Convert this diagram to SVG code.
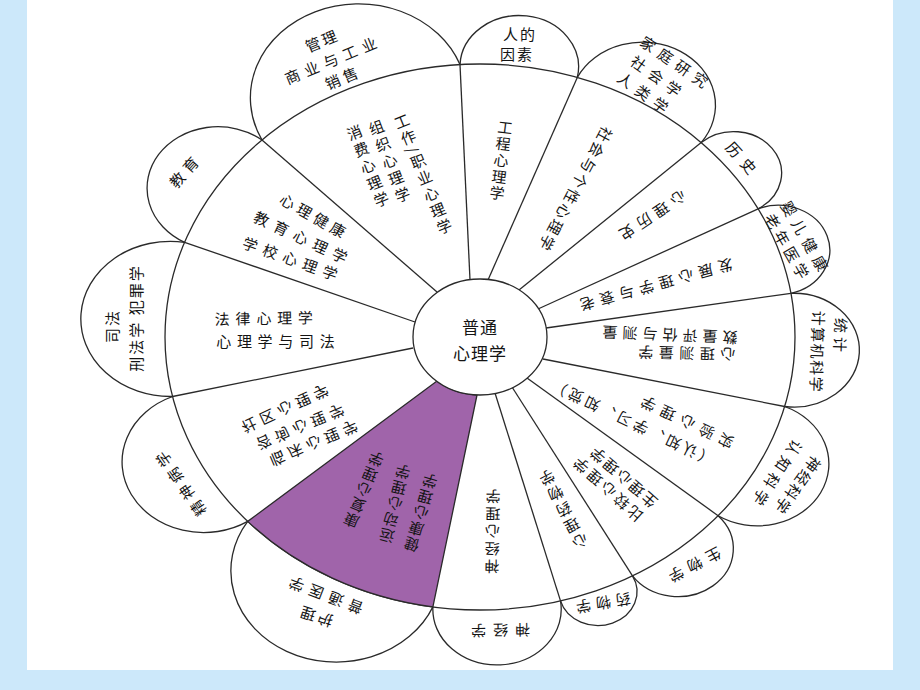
<svg xmlns="http://www.w3.org/2000/svg" width="920" height="690" viewBox="0 0 920 690">
<style>
.ln{fill:none;stroke:#2a2a2a;stroke-width:1.3}
.pt{fill:none;stroke:#2a2a2a;stroke-width:1.3}
.t{font-family:"Noto Sans CJK SC","Noto Sans",sans-serif;font-size:15px;fill:#141414;text-anchor:middle;dominant-baseline:central}
.v{writing-mode:vertical-rl}
.c{font-size:17px}
</style>
<rect x="0" y="0" width="920" height="690" fill="#cce8fa"/>
<rect x="27" y="0" width="866" height="670" fill="#ffffff"/>

<g id="petals">
<g id="p-guanli"><path class="pt" d="M262.0,140.0 A108.3 93.8 0 1 1 460.0,64.6"/>
<text class="t" transform="translate(322,40) rotate(-22.5)" style="letter-spacing:2.5px">管理</text>
<text class="t" transform="translate(333,59) rotate(-22.5)" style="letter-spacing:5.7px">商业与工业</text>
<text class="t" transform="translate(343,77) rotate(-22.5)" style="letter-spacing:4px">销售</text></g>
<g id="p-rende"><path class="pt" d="M460.0,64.6 A59.3 51.4 0 1 1 577.3,77.4"/>
<text class="t" transform="translate(520,33)" style="letter-spacing:2px">人的</text>
<text class="t" transform="translate(517,53)" style="letter-spacing:2px">因素</text></g>
<g id="p-jiating"><path class="pt" d="M577.3,77.4 A72.8 63.0 0 1 1 701.2,142.6"/>
<text class="t" transform="translate(677,63) rotate(34.5)" style="letter-spacing:6px">家庭研究</text>
<text class="t" transform="translate(659,77.5) rotate(35.5)" style="letter-spacing:6.5px">社会学</text>
<text class="t" transform="translate(646,94) rotate(35.5)" style="letter-spacing:6.5px">人类学</text></g>
<g id="p-lishi"><path class="pt" d="M701.2,142.6 A47.9 41.5 0 1 1 758.1,208.8"/>
<text class="t" transform="translate(744,160) rotate(48)" style="letter-spacing:7px">历史</text></g>
<g id="p-yinger"><path class="pt" d="M758.1,208.8 A51.6 44.7 0 1 1 790.9,293.3"/>
<text class="t" transform="translate(806.7,238.3) rotate(60)" style="letter-spacing:6px">婴儿健康</text>
<text class="t" transform="translate(788.3,247.5) rotate(60)" style="letter-spacing:4px">老年医学</text></g>
<g id="p-tongji"><path class="pt" d="M790.9,293.3 A65.7 56.9 0 1 1 784.6,406.5"/>
<text class="t" transform="translate(841,337) rotate(92)" style="letter-spacing:4px">统计</text>
<text class="t" transform="translate(818,352) rotate(92)" style="letter-spacing:1.5px">计算机科学</text></g>
<g id="p-shenjingkexue"><path class="pt" d="M784.6,406.5 A71.6 62.0 0 1 1 718.1,515.7"/>
<text class="t" transform="translate(798,486) rotate(126)" style="letter-spacing:2px">神经科学</text>
<text class="t" transform="translate(776.7,475) rotate(124)" style="letter-spacing:5px">认知科学</text></g>
<g id="p-shengwu"><path class="pt" d="M718.1,515.7 A55.3 47.9 0 1 1 632.5,575.9"/>
<text class="t" transform="translate(692.5,566.7) rotate(152.5)" style="letter-spacing:6px">生物学</text></g>
<g id="p-yaowu"><path class="pt" d="M632.5,575.9 A39.0 33.8 0 1 1 560.5,600.9"/>
<text class="t" transform="translate(601,604) rotate(170)" style="letter-spacing:5px">药物学</text></g>
<g id="p-shenjing"><path class="pt" d="M560.5,600.9 A64.2 55.6 0 1 1 432.9,606.9"/>
<text class="t" transform="translate(497,631) rotate(179)" style="letter-spacing:7px">神经学</text></g>
<g id="p-huli"><path class="pt" d="M432.9,606.9 A105.3 91.2 0 1 1 247.7,521.4"/>
<text class="t" transform="translate(315,617) rotate(198)" style="letter-spacing:3px">护理</text>
<text class="t" transform="translate(323,595) rotate(201)" style="letter-spacing:6px">普通医学</text></g>
<g id="p-jingshen"><path class="pt" d="M247.7,521.4 A81.6 70.7 0 1 1 172.6,396.5"/>
<text class="t" transform="translate(179,482) rotate(235)" style="letter-spacing:5px">精神病学</text></g>
<g id="p-sifa"><path class="pt" d="M172.6,396.5 A89.6 77.6 0 1 1 184.6,242.3"/>
<text class="t" transform="translate(111,326) rotate(-90)" style="letter-spacing:2px">司法</text>
<text class="t" transform="translate(135,318) rotate(-90)" style="letter-spacing:2px">刑法学 犯罪学</text></g>
<g id="p-jiaoyu"><path class="pt" d="M184.6,242.3 A70.9 61.4 0 1 1 262.0,140.0"/>
<text class="t" transform="translate(185,170) rotate(-48)" style="letter-spacing:5px">教育</text></g>
</g>

<g id="outer-ring"><ellipse class="ln" cx="480" cy="337" rx="315" ry="273"/></g>

<g id="seg-jiankang">
<path d="M477,395 L432.9,606.9 A315 273 0 0 1 247.7,521.4 L437,381 A67 58 0 0 0 477,395 Z" fill="#a064aa" stroke="#2a2a2a" stroke-width="1.3"/>
<text class="t v" transform="translate(364,489) rotate(202)" style="letter-spacing:1.5px">康复心理学</text>
<text class="t v" transform="translate(395,503) rotate(194)" style="letter-spacing:1.5px">运动心理学</text>
<text class="t v" transform="translate(421,512) rotate(196)" style="letter-spacing:1.5px">健康心理学</text>
</g>

<g id="connectors">
<path class="ln" d="M470,280 L460.0,64.6"/>
<path class="ln" d="M488,280 L577.3,77.4"/>
<path class="ln" d="M519,290 L701.2,142.6"/>
<path class="ln" d="M538,309 L758.1,208.8"/>
<path class="ln" d="M546,328 L790.9,293.3"/>
<path class="ln" d="M543,359 L784.6,406.5"/>
<path class="ln" d="M527,378 L718.1,515.7"/>
<path class="ln" d="M512,387 L632.5,575.9"/>
<path class="ln" d="M495,393 L560.5,600.9"/>
<path class="ln" d="M413,348 L172.6,396.5"/>
<path class="ln" d="M415,322 L184.6,242.3"/>
<path class="ln" d="M437,292 L262.0,140.0"/>
</g>

<g id="seg-gongzuo">
<text class="t v" transform="translate(423.5,175) rotate(-22)" style="letter-spacing:2.5px">工作/职业心理学</text>
<text class="t v" transform="translate(390,162.5) rotate(-21)" style="letter-spacing:3px">组织心理学</text>
<text class="t v" transform="translate(368.5,167.5) rotate(-22)" style="letter-spacing:3px">消费心理学</text>
</g>
<g id="seg-gongcheng"><text class="t v" transform="translate(501,161) rotate(7)" style="letter-spacing:1.5px">工程心理学</text></g>
<g id="seg-shehui"><text class="t" transform="translate(576,190) rotate(118)" style="letter-spacing:2.5px">社会与个性心理学</text></g>
<g id="seg-xinlilishi"><text class="t" transform="translate(651,217.5) rotate(146)" style="letter-spacing:5.5px">心理历史</text></g>
<g id="seg-fazhan"><text class="t" transform="translate(654,286) rotate(164.6)" style="letter-spacing:5.5px">发展心理学与衰老</text></g>
<g id="seg-shuliang">
<text class="t" transform="translate(667.5,335.5) rotate(182.4)" style="letter-spacing:5px">数量评估与测量</text>
<text class="t" transform="translate(684,354) rotate(181.4)" style="letter-spacing:5.5px">心理测量学</text>
</g>
<g id="seg-shiyan">
<text class="t" transform="translate(684,421.5) rotate(205.4)" style="letter-spacing:6.5px">实验心理学</text>
<text class="t" transform="translate(631,423) rotate(205.3)" style="letter-spacing:3px">（认知、学习、知觉）</text>
</g>
<g id="seg-shengli">
<text class="t" transform="translate(622.5,477.5) rotate(221)" style="letter-spacing:2px">生理心理学</text>
<text class="t" transform="translate(606.5,489) rotate(222)" style="letter-spacing:3px">比较心理学</text>
</g>
<g id="seg-yaowu"><text class="t v" transform="translate(563,508) rotate(152.5)" style="letter-spacing:3px">心理药物学</text></g>
<g id="seg-shenjing"><text class="t v" transform="translate(492.5,530) rotate(181)" style="letter-spacing:2.5px">神经心理学</text></g>
<g id="seg-shequ">
<text class="t" transform="translate(287.5,408.3) rotate(-25) scale(1,-1)" style="letter-spacing:4.7px">社区心理学</text>
<text class="t" transform="translate(302.5,426.7) rotate(-23) scale(1,-1)" style="letter-spacing:4.7px">咨询心理学</text>
<text class="t" transform="translate(316,443) rotate(-23) scale(1,-1)" style="letter-spacing:4.7px">临床心理学</text>
</g>
<g id="seg-falv">
<text class="t" transform="translate(266.7,317.5) rotate(-1)" style="letter-spacing:5.8px">法律心理学</text>
<text class="t" transform="translate(278.3,340)" style="letter-spacing:5.7px">心理学与司法</text>
</g>
<g id="seg-xinlijiankang">
<text class="t" transform="translate(315,216) rotate(29.5)" style="letter-spacing:4.2px">心理健康</text>
<text class="t" transform="translate(304,238) rotate(25)" style="letter-spacing:6.6px">教育心理学</text>
<text class="t" transform="translate(293.3,259) rotate(19.5)" style="letter-spacing:6.2px">学校心理学</text>
</g>

<g id="center">
<ellipse cx="480" cy="337" rx="67" ry="58" fill="#ffffff" stroke="#2a2a2a" stroke-width="1.3"/>
<text class="t c" x="480" y="326" style="letter-spacing:1px">普通</text>
<text class="t c" x="480" y="352" style="letter-spacing:1px">心理学</text>
</g>
</svg>
